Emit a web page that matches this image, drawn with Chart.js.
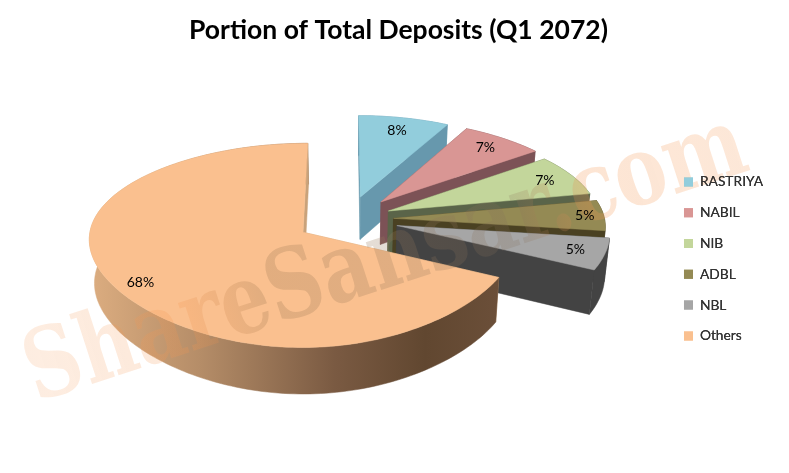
<!DOCTYPE html>
<html>
<head>
<meta charset="utf-8">
<style>
  html, body { margin: 0; padding: 0; background: #fff; }
  canvas { display: block; }
</style>
<script src="https://cdn.jsdelivr.net/npm/chart.js@4/dist/chart.umd.js"></script>
</head>
<body>
<canvas id="deposit-chart" width="789" height="473"></canvas>
<script>
const chartTitle = 'Portion of Total Deposits (Q1 2072)';
const watermarkText = 'ShareSansar.com';
const banks = ['RASTRIYA', 'NABIL', 'NIB', 'ADBL', 'NBL', 'Others'];
const depositShares = [8, 7, 7, 5, 5, 68];

const topColors = ['#92CDDC', '#D99694', '#C3D69B', '#948A54', '#A6A6A6', '#FAC08F'];
const wallColors = ['#6798AD', '#7C5256', '#5A6449', '#4A4122', '#434343', '#C9A27A'];
const explode = [0.24, 0.24, 0.21, 0.216, 0.24, 0.25];
const labelRadius = [0.82, 0.84, 0.85, 0.91, 0.86, 0.88];

// tilted disc, faked perspective (back is narrower than front)
const view = { cx: 348, cy: 219, rx: 211, ry: 97, depth: 43, shrink: 0.98 };

const project = (a, b) => {
  const scaleX = 1 / (1 + 0.08 * b + 0.05 * b * b);
  const scaleY = 1 / (1 + 0.127 * b);
  return {
    x: view.cx + view.rx * a * scaleX,
    y: view.cy - view.ry * b * scaleY,
    s: scaleY
  };
};

const bottomOf = (p) => ({
  x: view.cx + (p.x - view.cx) * view.shrink,
  y: p.y + view.depth * Math.sqrt(p.s)
});

const slicePoint = (arc, i, angle, radius) => {
  const mid = (arc.startAngle + arc.endAngle) / 2;
  const a = Math.cos(mid) * explode[i] + Math.cos(angle) * radius;
  const b = -Math.sin(mid) * explode[i] - Math.sin(angle) * radius;
  return project(a, b);
};

const fillPoly = (ctx, points, fill) => {
  ctx.beginPath();
  points.forEach((p, n) => (n ? ctx.lineTo(p.x, p.y) : ctx.moveTo(p.x, p.y)));
  ctx.closePath();
  ctx.fillStyle = fill;
  ctx.strokeStyle = fill;
  ctx.lineWidth = 0.5;
  ctx.fill();
  ctx.stroke();
};

const outerEdge = (arc, i) => {
  const steps = Math.ceil((arc.endAngle - arc.startAngle) * 40);
  const edge = [];
  for (let n = 0; n <= steps; n++) {
    const angle = arc.startAngle + (arc.endAngle - arc.startAngle) * n / steps;
    edge.push(slicePoint(arc, i, angle, 1));
  }
  return edge;
};

const othersWall = (ctx, edge) => {
  const xs = edge.map((p) => p.x);
  const grad = ctx.createLinearGradient(Math.min(...xs), 0, Math.max(...xs), 0);
  grad.addColorStop(0, '#DCAD80');
  grad.addColorStop(0.27, '#B58D68');
  grad.addColorStop(0.6, '#7A5A42');
  grad.addColorStop(0.82, '#614730');
  grad.addColorStop(1, '#6B4F39');
  return grad;
};

const drawSlice = (ctx, arc, i) => {
  const tip = slicePoint(arc, i, 0, 0);
  const edge = outerEdge(arc, i);
  const first = edge[0];
  const last = edge[edge.length - 1];

  // side walls first, top face goes over them
  fillPoly(ctx, [tip, first, bottomOf(first), bottomOf(tip)], wallColors[i]);
  const rim = i === banks.length - 1 ? othersWall(ctx, edge) : wallColors[i];
  fillPoly(ctx, edge.concat(edge.map(bottomOf).reverse()), rim);
  fillPoly(ctx, [tip, last, bottomOf(last), bottomOf(tip)], wallColors[i]);
  fillPoly(ctx, [tip].concat(edge), topColors[i]);
};

const drawWatermark = (ctx) => {
  ctx.save();
  ctx.translate(36, 402);
  ctx.rotate(-18 * Math.PI / 180);
  ctx.scale(0.94, 1.05);
  ctx.font = 'bold 92px "DejaVu Serif Condensed", "DejaVu Serif"';
  ctx.textAlign = 'left';
  ctx.textBaseline = 'alphabetic';
  const width = ctx.measureText(watermarkText).width;
  const grad = ctx.createLinearGradient(0, 0, width, 0);
  grad.addColorStop(0, 'rgba(245,150,80,0.17)');
  grad.addColorStop(0.22, 'rgba(245,150,80,0.22)');
  grad.addColorStop(0.33, 'rgba(170,130,90,0.3)');
  grad.addColorStop(0.68, 'rgba(130,110,90,0.2)');
  grad.addColorStop(0.78, 'rgba(245,150,80,0.25)');
  grad.addColorStop(1, 'rgba(245,150,80,0.22)');
  ctx.fillStyle = grad;
  ctx.fillText(watermarkText, 0, 0);
  ctx.restore();
};

const pie3d = {
  id: 'pie3d',
  beforeDatasetDraw(chart, args) {
    const ctx = chart.ctx;
    const arcs = args.meta.data;
    const total = depositShares.reduce((sum, v) => sum + v, 0);

    arcs.forEach((arc, i) => drawSlice(ctx, arc, i));
    drawWatermark(ctx);
    chart.legend.draw(); // keep legend above the watermark

    ctx.fillStyle = '#000';
    ctx.font = '14px Lato';
    ctx.textAlign = 'center';
    ctx.textBaseline = 'middle';
    arcs.forEach((arc, i) => {
      const mid = (arc.startAngle + arc.endAngle) / 2;
      const p = slicePoint(arc, i, mid, labelRadius[i]);
      ctx.fillText(`${Math.round(depositShares[i] / total * 100)}%`, p.x, p.y);
    });
    return false;
  }
};

new Chart(document.getElementById('deposit-chart').getContext('2d'), {
  type: 'pie',
  data: {
    labels: banks,
    datasets: [{
      data: depositShares,
      backgroundColor: topColors,
      borderWidth: 0
    }]
  },
  options: {
    responsive: false,
    animation: false,
    layout: { padding: { top: 15, right: 16, left: 24, bottom: 10 } },
    plugins: {
      title: {
        display: true,
        text: chartTitle,
        color: '#000',
        font: { family: 'Lato', size: 26.5, weight: 'bold' },
        padding: { top: 0, bottom: 8 }
      },
      legend: {
        position: 'right',
        fullSize: false,
        labels: {
          boxWidth: 9,
          boxHeight: 9,
          padding: 17,
          color: '#333',
          font: { family: 'Lato', size: 13.8 }
        }
      },
      tooltip: { enabled: false }
    }
  },
  plugins: [pie3d]
});
</script>
</body>
</html>
